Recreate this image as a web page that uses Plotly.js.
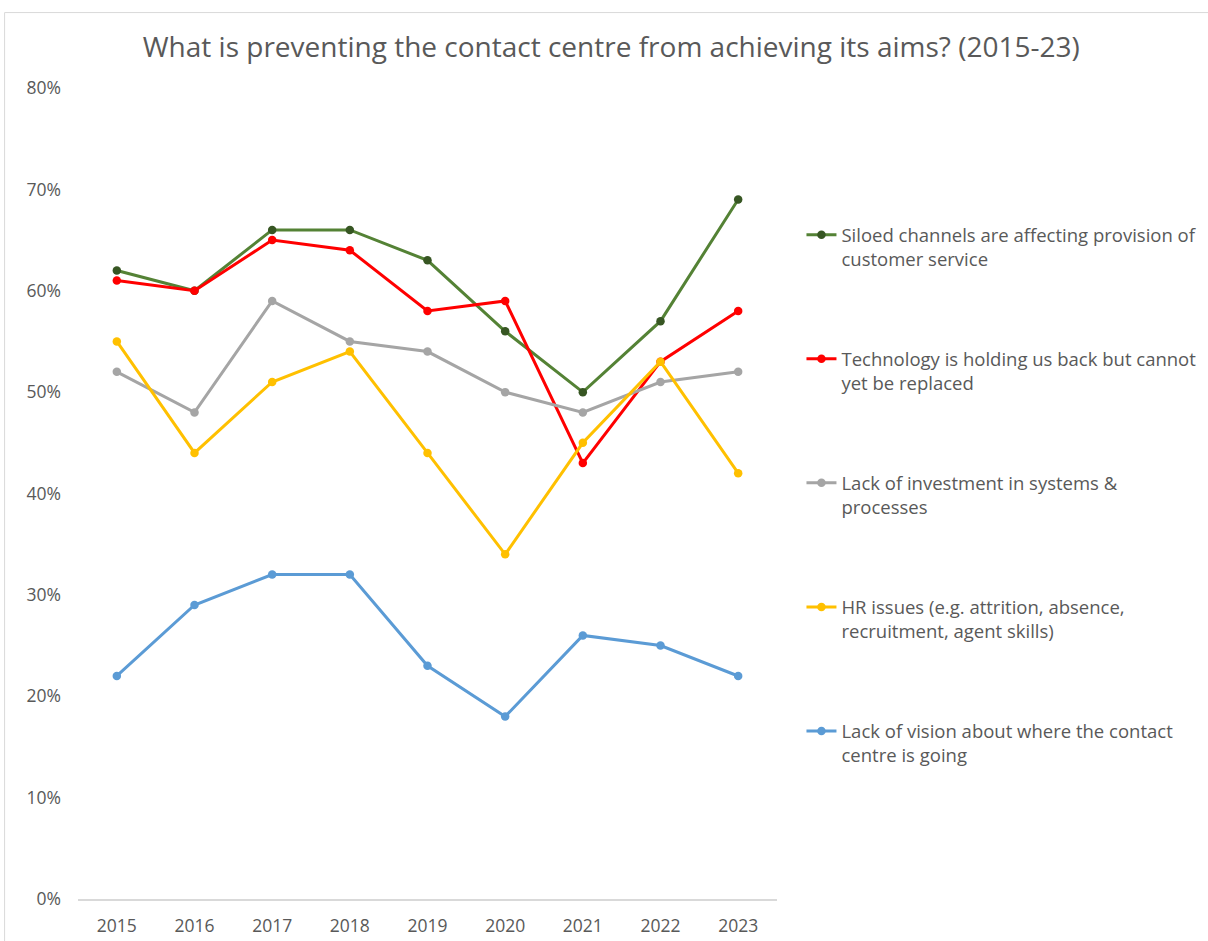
<!DOCTYPE html>
<html><head><meta charset="utf-8">
<script src="https://cdn.plot.ly/plotly-3.0.1.min.js"></script>
<style>html,body{margin:0;padding:0;background:#fff}#chart{width:1208px;height:941px}</style>
</head><body><div id="chart"></div>
<script>
const years = ["2015","2016","2017","2018","2019","2020","2021","2022","2023"];
const siloed = [0.62,0.60,0.66,0.66,0.63,0.56,0.50,0.57,0.69];
const technology = [0.61,0.60,0.65,0.64,0.58,0.59,0.43,0.53,0.58];
const investment = [0.52,0.48,0.59,0.55,0.54,0.50,0.48,0.51,0.52];
const hrIssues = [0.55,0.44,0.51,0.54,0.44,0.34,0.45,0.53,0.42];
const vision = [0.22,0.29,0.32,0.32,0.23,0.18,0.26,0.25,0.22];
const seriesNames = [
  "Siloed channels are affecting provision of<br>customer service",
  "Technology is holding us back but cannot<br>yet be replaced",
  "Lack of investment in systems &<br>processes",
  "HR issues (e.g. attrition, absence,<br>recruitment, agent skills)",
  "Lack of vision about where the contact<br>centre is going"
];
const lineColors = ["#548235","#FF0000","#A5A5A5","#FFC000","#5B9BD5"];
const markerColors = ["#375623","#FF0000","#A5A5A5","#FFC000","#5B9BD5"];
const allValues = [siloed, technology, investment, hrIssues, vision];

const traces = allValues.map((v,i)=>({
  x: years, y: v, type: 'scatter', mode: 'lines+markers',
  name: seriesNames[i], legendgroup: 'g'+i,
  line: {color: lineColors[i], width: 3},
  marker: {color: markerColors[i], size: 8.5}
}));

const layout = {
  width: 1208, height: 941,
  margin: {l: 78, r: 431, t: 88, b: 42, autoexpand: false},
  paper_bgcolor: '#fff', plot_bgcolor: '#fff',
  font: {family: 'Open Sans, sans-serif', color: '#595959'},
  title: {text: 'What is preventing the contact centre from achieving its aims? (2015-23)',
    x: 0.506, xanchor: 'center', y: 0.95, yanchor: 'middle',
    font: {size: 28, color: '#595959', family: 'Open Sans, sans-serif'}},
  xaxis: {type: 'category', range: [-0.5, 8.5], showgrid: false, zeroline: false,
    showline: true, linecolor: '#D9D9D9', linewidth: 1.5, ticks: '',
    ticklabelstandoff: 10,
    tickfont: {size: 17.5, color: '#595959'}},
  yaxis: {range: [0, 0.8], dtick: 0.1, tickformat: '.0%', showgrid: false,
    zeroline: false, showline: false, ticks: '', ticklabelstandoff: 16,
    tickfont: {size: 17.5, color: '#595959'}},
  showlegend: true,
  legend: {x: 1.035, xanchor: 'left', y: 0.842, yanchor: 'top',
    tracegroupgap: 73, traceorder: 'grouped', valign: 'top',
    font: {size: 18.5, color: '#595959'}, bgcolor: 'rgba(0,0,0,0)'},
  shapes: [{type: 'rect', xref: 'paper', yref: 'paper', x0: -0.105, x1: 1.7, y0: -0.2, y1: 1.093,
    line: {color: '#D9D9D9', width: 1}, fillcolor: 'rgba(0,0,0,0)'}]
};
Plotly.newPlot('chart', traces, layout, {displayModeBar: false});
</script></body></html>
